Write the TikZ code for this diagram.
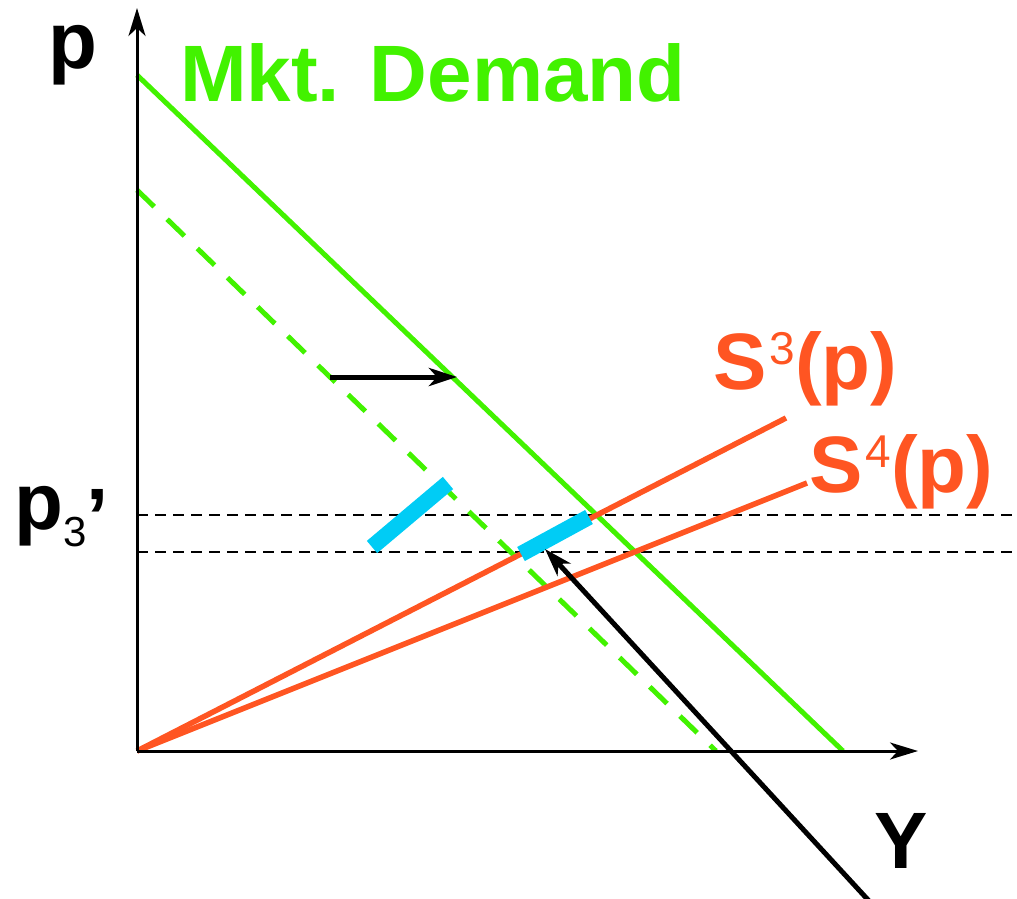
\documentclass[tikz,border=0pt]{standalone}
\usepackage{fontspec}
\setmainfont{Liberation Sans}
\usetikzlibrary{arrows.meta}
\definecolor{dgreen}{RGB}{66,242,0}
\definecolor{sred}{RGB}{255,85,34}
\definecolor{bcyan}{RGB}{0,204,245}
\tikzset{
  axis/.style={line width=3pt,-{Stealth[length=28pt,width=17pt,inset=8pt]}},
  demand/.style={dgreen,line width=5pt},
  olddemand/.style={dgreen,line width=5pt,dash pattern=on 24pt off 18pt},
  supply/.style={sred,line width=5.5pt},
  level/.style={black,line width=2.5pt,dash pattern=on 11pt off 7pt},
  shift arrow/.style={black,line width=5pt,-{Stealth[length=28pt,width=18pt,inset=8pt]}},
  bar/.style={bcyan,line width=16pt},
  big/.style={inner sep=0pt,font=\fontsize{80}{80}\selectfont\bfseries},
}
\newcommand{\supnum}[1]{\kern3pt\raisebox{25pt}{\fontsize{46}{46}\selectfont\mdseries #1}}
\begin{document}
\begin{tikzpicture}[x=1pt,y=-1pt]
\useasboundingbox (0,0) rectangle (1017,899);
% coordinates
\coordinate (O) at (137,751);
\coordinate (Ytop) at (137,8);
\coordinate (Xend) at (918,751);
\coordinate (Da) at (137,75);
\coordinate (Db) at (843,751);
\coordinate (Ea) at (137,190);
\coordinate (Eb) at (716,751);
\coordinate (S3e) at (786,418);
\coordinate (S4e) at (807,483);
\coordinate (L1a) at (137,515);
\coordinate (L1b) at (1017,515);
\coordinate (L2a) at (137,552);
\coordinate (L2b) at (1017,552);
\coordinate (Ha) at (330,377);
\coordinate (Hb) at (457,377);
\coordinate (Ba1) at (372,547);
\coordinate (Bb1) at (448,483);
\coordinate (Ba2) at (521,554);
\coordinate (Bb2) at (589,517);
\coordinate (Aa) at (870,902);
\coordinate (Ab) at (545,549);
% dashed price levels
\draw[level] (L1a) -- (L1b);
\draw[level] (L2a) -- (L2b);
% demand curves
\draw[olddemand] (Ea) -- (Eb);
\draw[demand] (Da) -- (Db);
% supply curves
\draw[supply] (O) -- (S3e);
\draw[supply] (O) -- (S4e);
% bars
\draw[bar] (Ba1) -- (Bb1);
\draw[bar] (Ba2) -- (Bb2);
% axes
\draw[axis] (O) -- (Ytop);
\draw[axis] (O) -- (Xend);
% arrows
\draw[shift arrow] (Ha) -- (Hb);
\draw[shift arrow] (Aa) -- (Ab);
% labels
\node[big,anchor=base west] (lp) at (48,68) {p};
\node[big,anchor=base west,dgreen] (lmkt) at (180,101) {Mkt. Demand};
\node[big,anchor=base west] (lY) at (874,868) {Y};
\node[big,anchor=base west,sred] (lS3) at (713,389) {S\supnum{3}(p)};
\node[big,anchor=base west,sred] (lS4) at (809,492) {S\supnum{4}(p)};
\node[big,anchor=base west] (lp3) at (14,529) {p\raisebox{-17pt}{\fontsize{42}{42}\selectfont\mdseries 3}\raisebox{-15pt}{’}};
\end{tikzpicture}
\end{document}
